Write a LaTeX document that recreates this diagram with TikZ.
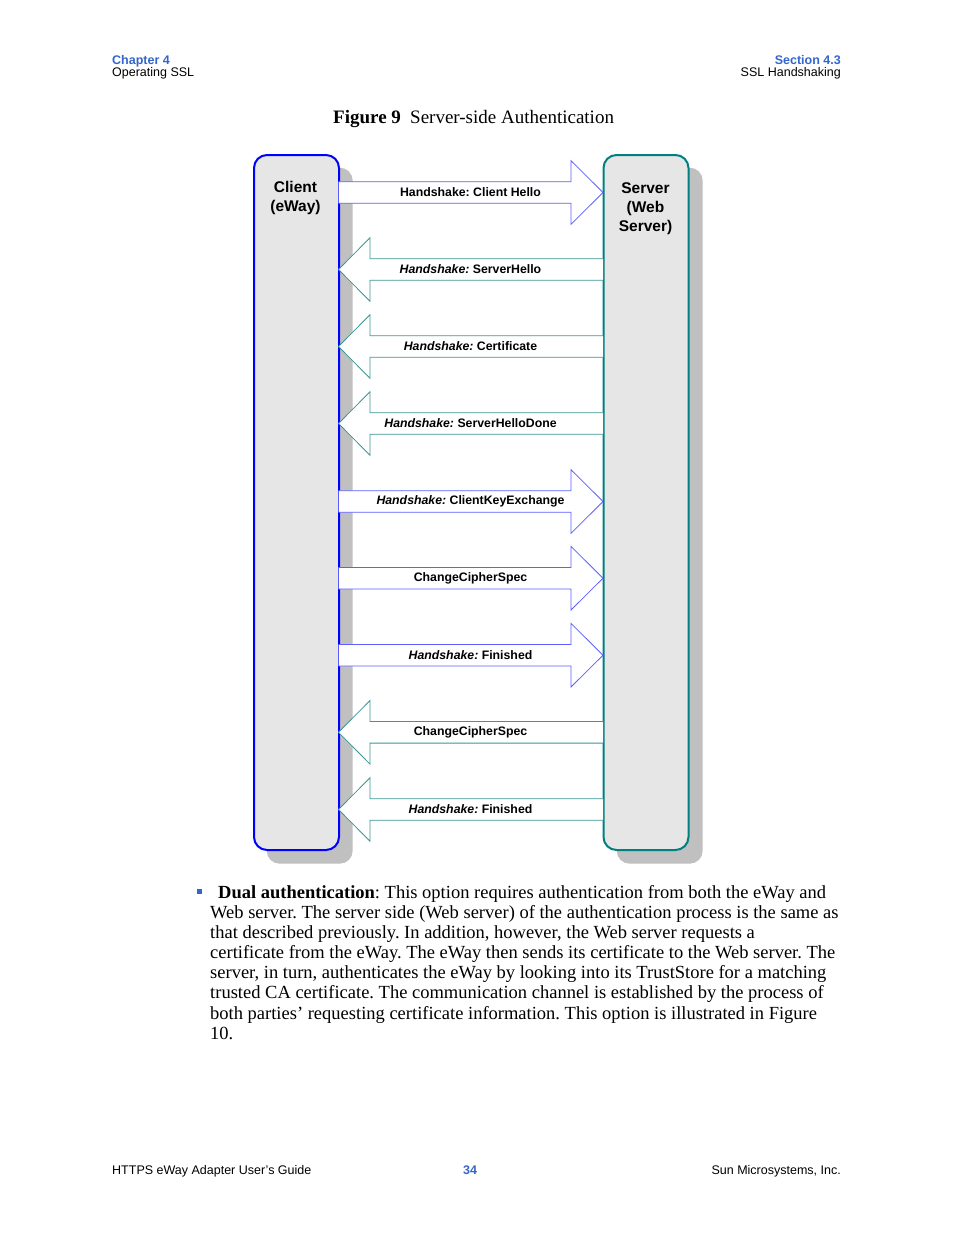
\documentclass[tikz,border=0pt]{standalone}
\usepackage{fontspec}
\setmainfont{Liberation Serif}
\setsansfont{Liberation Sans}
\usetikzlibrary{positioning}
\definecolor{clientblue}{RGB}{0,0,255}
\definecolor{serverteal}{RGB}{0,128,128}
\definecolor{toserver}{RGB}{95,95,255}
\definecolor{toclient}{RGB}{60,150,150}
\definecolor{shadowgray}{RGB}{192,192,192}
\definecolor{boxgray}{RGB}{230,230,230}
\definecolor{headblue}{RGB}{51,102,204}

\begin{document}
\frenchspacing
\begin{tikzpicture}[x=1pt,y=-1pt,
  party/.style={rounded corners=13pt,fill=boxgray,line width=2pt,minimum width=85pt,minimum height=695pt,anchor=north west,inner sep=0pt},
  partyshadow/.style={rounded corners=13pt,fill=shadowgray,minimum width=86pt,minimum height=696pt,anchor=north west,inner sep=0pt},
  partytxt/.style={font=\sffamily\bfseries\fontsize{15.5}{19}\selectfont,align=center},
  rarrow/.style={draw=toserver,fill=white,line width=0.8pt},
  larrow/.style={draw=toclient,fill=white,line width=0.8pt},
  msg/.style={font=\sffamily\bfseries\fontsize{12.3}{14}\selectfont,inner sep=0pt},
  hdr/.style={font=\sffamily\fontsize{12.5}{14}\selectfont,inner sep=0pt},
  body/.style={font=\fontsize{18.5}{20}\selectfont,inner sep=0pt,anchor=base west}]
  \useasboundingbox[fill=white] (0,0) rectangle (954,1235);
  % page head and foot
  \node[hdr,anchor=base west,text=headblue] (chap) at (112,64) {\bfseries Chapter 4};
  \node[hdr,anchor=base west] (chapname) at (112,76) {Operating SSL};
  \node[hdr,anchor=base east,text=headblue] (sect) at (841,64) {\bfseries Section 4.3};
  \node[hdr,anchor=base east] (sectname) at (841,76) {SSL Handshaking};
  \node[hdr,anchor=base west] (guide) at (112,1174) {HTTPS eWay Adapter User's Guide};
  \node[hdr,anchor=base,text=headblue] (pageno) at (470,1174) {\bfseries 34};
  \node[hdr,anchor=base east] (company) at (841,1174) {Sun Microsystems, Inc.};
  % caption
  \node[font=\fontsize{19}{20}\selectfont,inner sep=0pt,anchor=base west] (fignum) at (333,123) {\bfseries Figure 9};
  \node[font=\fontsize{19}{20}\selectfont,inner sep=0pt,anchor=base west] (figname) at (410,123) {Server-side Authentication};
  % client and server
  \node[partyshadow] (clientshadow) at (266.5,167.5) {};
  \node[partyshadow] (servershadow) at (616.5,167.5) {};
  \node[party,draw=clientblue] (client) at (253,154) {};
  \node[party,draw=serverteal] (server) at (602.5,154) {};
  \node[partytxt] (clienttxt) at (295.5,198) {Client\\(eWay)};
  \node[partytxt] (servertxt) at (645.5,209) {Server\\(Web\\Server)};
  % messages
  \draw[rarrow] (338.5,181.7) -- ++(232.5,0) -- ++(0,-21) -- ++(32,31.8) -- ++(-32,31.8) -- ++(0,-21) -- ++(-232.5,0);
  \draw[larrow] (603,258.7) -- ++(-233,0) -- ++(0,-21) -- ++(-31.5,31.8) -- ++(31.5,31.8) -- ++(0,-21) -- ++(233,0);
  \draw[larrow] (603,335.7) -- ++(-233,0) -- ++(0,-21) -- ++(-31.5,31.8) -- ++(31.5,31.8) -- ++(0,-21) -- ++(233,0);
  \draw[larrow] (603,412.7) -- ++(-233,0) -- ++(0,-21) -- ++(-31.5,31.8) -- ++(31.5,31.8) -- ++(0,-21) -- ++(233,0);
  \draw[rarrow] (338.5,490.7) -- ++(232.5,0) -- ++(0,-21) -- ++(32,31.8) -- ++(-32,31.8) -- ++(0,-21) -- ++(-232.5,0);
  \draw[rarrow] (338.5,567.4) -- ++(232.5,0) -- ++(0,-21) -- ++(32,31.8) -- ++(-32,31.8) -- ++(0,-21) -- ++(-232.5,0);
  \draw[rarrow] (338.5,644.4) -- ++(232.5,0) -- ++(0,-21) -- ++(32,31.8) -- ++(-32,31.8) -- ++(0,-21) -- ++(-232.5,0);
  \draw[larrow] (603,721.5) -- ++(-233,0) -- ++(0,-21) -- ++(-31.5,31.8) -- ++(31.5,31.8) -- ++(0,-21) -- ++(233,0);
  \draw[larrow] (603,798.7) -- ++(-233,0) -- ++(0,-21) -- ++(-31.5,31.8) -- ++(31.5,31.8) -- ++(0,-21) -- ++(233,0);
  \node[msg] (m1) at (470.5,192.5) {Handshake: Client Hello};
  \node[msg] (m2) at (470.5,269.5) {\textit{Handshake:} ServerHello};
  \node[msg] (m3) at (470.5,346.5) {\textit{Handshake:} Certificate};
  \node[msg] (m4) at (470.5,423.5) {\textit{Handshake:} ServerHelloDone};
  \node[msg] (m5) at (470.5,501.5) {\textit{Handshake:} ClientKeyExchange};
  \node[msg] (m6) at (470.5,578.2) {ChangeCipherSpec};
  \node[msg] (m7) at (470.5,655.2) {\textit{Handshake:} Finished};
  \node[msg] (m8) at (470.5,732.3) {ChangeCipherSpec};
  \node[msg] (m9) at (470.5,809.5) {\textit{Handshake:} Finished};
  % text below the figure
  \fill[headblue] (196.5,888.5) rectangle (201.5,893.5);
  \node[body] (l1) at (218,898) {\textbf{Dual authentication}: This option requires authentication from both the eWay and};
  \node[body] (l2) at (210,918) {Web server. The server side (Web server) of the authentication process is the same as};
  \node[body] (l3) at (210,938) {that described previously. In addition, however, the Web server requests a};
  \node[body] (l4) at (210,958) {certificate from the eWay. The eWay then sends its certificate to the Web server. The};
  \node[body] (l5) at (210,978.5) {server, in turn, authenticates the eWay by looking into its TrustStore for a matching};
  \node[body] (l6) at (210,998.5) {trusted CA certificate. The communication channel is established by the process of};
  \node[body] (l7) at (210,1019) {both parties' requesting certificate information. This option is illustrated in Figure};
  \node[body] (l8) at (210,1039.5) {10.};
\end{tikzpicture}
\end{document}
